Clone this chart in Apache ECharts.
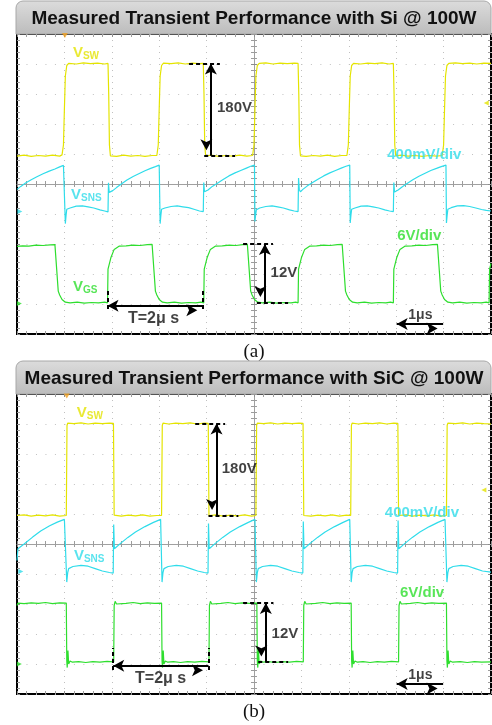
<!DOCTYPE html>
<html><head><meta charset="utf-8">
<script src="https://cdn.jsdelivr.net/npm/echarts@6/dist/echarts.min.js"></script>
<style>html,body{margin:0;padding:0;background:#fff}#c{width:492px;height:725px}</style>
</head><body><div id="c"></div>
<script>
// ---- data (x in µs = scope divisions, y in scope divisions 0..10) ----
const titles = ['Measured Transient Performance with Si @ 100W','Measured Transient Performance with SiC @ 100W'];
const captions = ['(a)','(b)'];
const channelNames = ['SW','SNS','GS'];
const scaleLabels = ['400mV/div','6V/div'];
const deltaLabels = ['180V','12V','T=2μ s','1μs'];

const vswA = [[0,5.93],[0.15,5.96],[0.3,5.92],[0.45,5.95],[0.6,5.93],[0.75,5.96],[0.9,5.93],[0.95,5.97],[0.98,6.3],[1.0,7.5],[1.02,8.6],[1.05,8.95],[1.09,9.02],[1.25,9.0],[1.4,9.04],[1.55,9.01],[1.7,9.03],[1.85,9.0],[1.92,9.02],[1.935,8.0],[1.95,6.3],[1.97,5.94],[2.1,5.92],[2.25,5.96],[2.4,5.93],[2.55,5.95],[2.7,5.92],[2.85,5.95],[2.95,5.95],[2.98,6.3],[3.0,7.5],[3.02,8.6],[3.05,8.95],[3.09,9.03],[3.25,9.01],[3.4,9.04],[3.55,9.0],[3.7,9.03],[3.85,9.01],[3.93,9.02],[3.945,8.0],[3.96,6.3],[3.98,5.94],[4.1,5.96],[4.25,5.92],[4.4,5.95],[4.55,5.93],[4.7,5.96],[4.85,5.93],[4.97,5.95],[5.0,6.3],[5.02,7.5],[5.04,8.6],[5.07,8.95],[5.11,9.02],[5.25,9.04],[5.4,9.0],[5.55,9.03],[5.7,9.01],[5.85,9.03],[5.93,9.02],[5.945,8.0],[5.96,6.3],[5.98,5.94],[6.1,5.92],[6.25,5.95],[6.4,5.93],[6.55,5.96],[6.7,5.92],[6.85,5.95],[6.96,5.95],[6.99,6.3],[7.01,7.5],[7.03,8.6],[7.06,8.95],[7.1,9.02],[7.25,9.0],[7.4,9.03],[7.55,9.01],[7.7,9.04],[7.85,9.0],[7.94,9.02],[7.955,8.0],[7.97,6.3],[7.99,5.94],[8.1,5.96],[8.25,5.93],[8.4,5.95],[8.55,5.92],[8.7,5.95],[8.85,5.93],[8.97,5.95],[9.0,6.3],[9.02,7.5],[9.04,8.6],[9.07,8.95],[9.11,9.02],[9.25,9.04],[9.4,9.01],[9.55,9.03],[9.7,9.0],[9.85,9.03],[10,9.02]];
const vsnsA = [[0,4.82],[0.08,4.92],[0.18,5.03],[0.3,5.14],[0.42,5.24],[0.55,5.34],[0.68,5.43],[0.8,5.5],[0.9,5.57],[0.98,5.62],[1.01,5.63],[1.02,3.68],[1.035,3.95],[1.05,4.16],[1.12,4.2],[1.25,4.26],[1.38,4.27],[1.5,4.24],[1.62,4.2],[1.75,4.14],[1.85,4.1],[1.92,4.07],[1.93,5.04],[1.945,4.72],[1.97,4.67],[2.02,4.78],[2.1,4.88],[2.2,5.0],[2.32,5.13],[2.45,5.25],[2.58,5.35],[2.7,5.44],[2.82,5.52],[2.92,5.58],[3.0,5.63],[3.02,3.68],[3.035,3.95],[3.05,4.16],[3.12,4.2],[3.25,4.25],[3.38,4.27],[3.5,4.24],[3.62,4.21],[3.75,4.15],[3.85,4.1],[3.93,4.08],[3.94,5.05],[3.955,4.74],[3.98,4.7],[4.03,4.8],[4.12,4.92],[4.22,5.02],[4.34,5.14],[4.47,5.27],[4.6,5.37],[4.72,5.45],[4.84,5.53],[4.93,5.59],[5.01,5.63],[5.02,3.75],[5.035,3.98],[5.05,4.14],[5.12,4.2],[5.25,4.25],[5.38,4.27],[5.5,4.24],[5.62,4.2],[5.75,4.14],[5.85,4.1],[5.93,4.08],[5.94,5.2],[5.955,4.82],[5.98,4.74],[6.03,4.82],[6.12,4.93],[6.22,5.03],[6.34,5.15],[6.47,5.27],[6.6,5.37],[6.72,5.45],[6.84,5.53],[6.94,5.59],[7.02,5.63],[7.03,3.7],[7.045,3.96],[7.06,4.16],[7.13,4.2],[7.26,4.26],[7.39,4.27],[7.51,4.24],[7.63,4.2],[7.76,4.14],[7.86,4.1],[7.94,4.08],[7.95,5.05],[7.965,4.73],[7.99,4.69],[8.04,4.8],[8.13,4.91],[8.23,5.02],[8.35,5.14],[8.48,5.26],[8.61,5.36],[8.73,5.45],[8.85,5.52],[8.95,5.58],[9.05,5.63],[9.06,3.7],[9.075,3.96],[9.09,4.16],[9.16,4.21],[9.29,4.27],[9.42,4.28],[9.55,4.25],[9.68,4.2],[9.8,4.15],[9.9,4.12],[10,4.1]];
const vgsA = [[0,2.92],[0.12,2.94],[0.25,2.93],[0.4,2.96],[0.55,2.95],[0.7,2.97],[0.8,2.98],[0.87,1.43],[0.9,1.3],[0.95,1.15],[1.02,1.06],[1.12,1.04],[1.27,1.06],[1.42,1.03],[1.57,1.05],[1.72,1.04],[1.85,1.06],[1.91,1.04],[1.92,2.16],[1.98,2.54],[2.05,2.82],[2.16,2.93],[2.3,2.94],[2.45,2.96],[2.6,2.95],[2.75,2.98],[2.85,2.99],[2.92,1.43],[2.95,1.3],[3.0,1.15],[3.07,1.06],[3.17,1.04],[3.32,1.06],[3.47,1.03],[3.62,1.05],[3.77,1.04],[3.88,1.06],[3.94,1.04],[3.95,2.16],[4.01,2.54],[4.08,2.82],[4.19,2.93],[4.33,2.94],[4.48,2.96],[4.62,2.95],[4.76,2.98],[4.86,2.99],[4.93,1.43],[4.96,1.3],[5.01,1.15],[5.08,1.06],[5.18,1.04],[5.33,1.06],[5.48,1.03],[5.63,1.05],[5.78,1.04],[5.88,1.06],[5.93,1.04],[5.94,2.16],[6.0,2.54],[6.07,2.82],[6.18,2.93],[6.32,2.94],[6.47,2.96],[6.61,2.95],[6.76,2.98],[6.86,2.99],[6.93,1.43],[6.96,1.3],[7.01,1.15],[7.08,1.06],[7.18,1.04],[7.33,1.06],[7.48,1.03],[7.63,1.05],[7.78,1.04],[7.88,1.06],[7.94,1.04],[7.95,2.16],[8.01,2.54],[8.08,2.82],[8.19,2.93],[8.33,2.94],[8.48,2.96],[8.62,2.95],[8.77,2.98],[8.87,2.99],[8.94,1.43],[8.97,1.3],[9.02,1.15],[9.09,1.06],[9.19,1.04],[9.34,1.06],[9.49,1.03],[9.64,1.05],[9.79,1.04],[9.9,1.06],[9.96,1.04],[9.97,2.16],[10,2.35]];

const vswB = [[0,5.95],[0.15,5.97],[0.3,5.93],[0.45,5.96],[0.6,5.94],[0.75,5.97],[0.9,5.93],[1.04,5.95],[1.055,8.95],[1.07,9.03],[1.2,9.01],[1.35,9.04],[1.5,9.0],[1.65,9.03],[1.8,9.01],[1.95,9.03],[2.035,9.02],[2.05,5.96],[2.2,5.93],[2.35,5.96],[2.5,5.94],[2.65,5.97],[2.8,5.93],[2.95,5.95],[3.05,5.95],[3.065,8.95],[3.08,9.03],[3.2,9.0],[3.35,9.03],[3.5,9.01],[3.65,9.04],[3.8,9.0],[3.95,9.03],[4.035,9.02],[4.05,5.95],[4.2,5.97],[4.35,5.93],[4.5,5.96],[4.65,5.94],[4.8,5.97],[4.95,5.93],[5.04,5.95],[5.055,8.95],[5.07,9.03],[5.2,9.01],[5.35,9.04],[5.5,9.0],[5.65,9.03],[5.8,9.01],[5.95,9.03],[6.035,9.02],[6.05,5.95],[6.2,5.93],[6.35,5.96],[6.5,5.94],[6.65,5.97],[6.8,5.93],[6.95,5.96],[7.04,5.95],[7.055,8.95],[7.07,9.03],[7.2,9.0],[7.35,9.03],[7.5,9.01],[7.65,9.04],[7.8,9.0],[7.95,9.03],[8.035,9.02],[8.05,5.95],[8.2,5.97],[8.35,5.93],[8.5,5.96],[8.65,5.94],[8.8,5.97],[8.95,5.93],[9.06,5.95],[9.075,8.95],[9.09,9.03],[9.25,9.01],[9.4,9.04],[9.55,9.0],[9.7,9.03],[9.85,9.01],[10,9.0]];
const vsnsB = [[0,4.45],[0.02,4.84],[0.06,4.88],[0.15,5.0],[0.33,5.23],[0.5,5.43],[0.68,5.6],[0.85,5.73],[1.0,5.82],[1.04,5.84],[1.05,3.73],[1.07,4.05],[1.09,4.18],[1.18,4.25],[1.35,4.29],[1.5,4.26],[1.65,4.18],[1.8,4.1],[1.95,4.05],[2.03,4.03],[2.04,5.65],[2.055,4.84],[2.09,4.9],[2.19,5.03],[2.34,5.22],[2.5,5.4],[2.7,5.58],[2.88,5.72],[3.03,5.82],[3.05,5.84],[3.06,3.73],[3.08,4.05],[3.1,4.18],[3.19,4.25],[3.36,4.29],[3.51,4.26],[3.66,4.18],[3.81,4.1],[3.95,4.05],[4.03,4.03],[4.04,5.68],[4.055,4.84],[4.09,4.9],[4.19,5.03],[4.34,5.22],[4.5,5.4],[4.7,5.58],[4.88,5.72],[5.02,5.82],[5.04,5.84],[5.05,3.73],[5.07,4.05],[5.09,4.18],[5.18,4.25],[5.35,4.29],[5.5,4.26],[5.65,4.18],[5.8,4.1],[5.95,4.05],[6.03,4.03],[6.04,5.75],[6.055,4.84],[6.09,4.9],[6.19,5.03],[6.34,5.22],[6.5,5.4],[6.7,5.58],[6.88,5.72],[7.02,5.82],[7.04,5.84],[7.05,3.73],[7.07,4.05],[7.09,4.18],[7.18,4.25],[7.35,4.29],[7.5,4.26],[7.65,4.18],[7.8,4.1],[7.95,4.05],[8.03,4.03],[8.04,5.78],[8.055,4.84],[8.09,4.9],[8.19,5.03],[8.34,5.22],[8.5,5.4],[8.7,5.58],[8.88,5.72],[9.03,5.82],[9.06,5.84],[9.07,3.73],[9.09,4.05],[9.11,4.18],[9.2,4.25],[9.37,4.29],[9.52,4.26],[9.67,4.18],[9.82,4.1],[10,4.06]];
const vgsB = [[0,2.95],[0.02,3.03],[0.15,3.01],[0.3,3.04],[0.45,3.02],[0.6,3.05],[0.75,3.01],[0.9,3.04],[1.04,3.03],[1.05,1.1],[1.06,0.88],[1.075,1.45],[1.09,1.0],[1.12,1.1],[1.17,1.06],[1.3,1.08],[1.45,1.05],[1.6,1.08],[1.75,1.06],[1.9,1.09],[2.04,1.07],[2.05,2.95],[2.07,3.09],[2.1,3.0],[2.14,3.04],[2.3,3.02],[2.45,3.05],[2.6,3.01],[2.75,3.04],[2.9,3.02],[3.05,3.03],[3.06,1.1],[3.07,0.88],[3.085,1.45],[3.1,1.0],[3.13,1.1],[3.18,1.06],[3.3,1.08],[3.45,1.05],[3.6,1.08],[3.75,1.06],[3.9,1.09],[4.05,1.07],[4.06,2.95],[4.08,3.09],[4.11,3.0],[4.15,3.04],[4.3,3.02],[4.45,3.05],[4.6,3.01],[4.75,3.04],[4.9,3.02],[5.06,3.03],[5.07,1.1],[5.08,0.88],[5.095,1.45],[5.11,1.0],[5.14,1.1],[5.19,1.06],[5.3,1.08],[5.45,1.05],[5.6,1.08],[5.75,1.06],[5.9,1.09],[6.04,1.07],[6.05,2.95],[6.07,3.09],[6.1,3.0],[6.14,3.04],[6.3,3.02],[6.45,3.05],[6.6,3.01],[6.75,3.04],[6.9,3.02],[7.05,3.03],[7.06,1.1],[7.07,0.88],[7.085,1.45],[7.1,1.0],[7.13,1.1],[7.18,1.06],[7.3,1.08],[7.45,1.05],[7.6,1.08],[7.75,1.06],[7.9,1.09],[8.05,1.07],[8.06,2.95],[8.08,3.09],[8.11,3.0],[8.15,3.04],[8.3,3.02],[8.45,3.05],[8.6,3.01],[8.75,3.04],[8.9,3.02],[9.06,3.03],[9.07,1.1],[9.08,0.88],[9.095,1.45],[9.11,1.0],[9.14,1.1],[9.19,1.06],[9.35,1.08],[9.5,1.05],[9.65,1.08],[9.8,1.06],[10,1.07]];

// ---- styling / layout ----
const COL = {sw:'#e4e400', sns:'#2fdcea', gs:'#2ede2e', trig:'#f0a020'};
const FONT = 'Liberation Sans, Arial, sans-serif';
const grids = [
  {left:17, top:34, width:474, height:300, show:true, borderColor:'#000', borderWidth:2, backgroundColor:'#fff'},
  {left:17, top:394, width:474, height:300, show:true, borderColor:'#000', borderWidth:2, backgroundColor:'#fff'}
];

// annotation placement (data coordinates)
const panels = [
  {traces:[vswA,vsnsA,vgsA],
   names:[[1.18,9.37],[1.14,4.63],[1.18,1.56]],
   v180:{top:[3.63,4.28,9.02], bot:[3.95,4.6,5.94], x:4.09, t:[4.22,7.53]},
   mv:[7.81,5.97], v6:[8.02,3.27],
   v12:{top:[4.77,5.4,3.0], bot:[5.06,5.72,1.05], x:5.23, t:[5.35,2.04]},
   T:{y:0.94, x0:1.91, x1:3.92, vy0:0.83, vy1:1.53, t:[2.88,0.5]},
   us:{y:0.33, x0:8.01, x1:8.99, t:[8.51,0.62]},
   mk:{trig:[1.01,9.95], lvl:[9.9,7.7], sns:[0.06,4.08], gs:[0.05,1.02]}},
  {traces:[vswB,vsnsB,vgsB],
   names:[[1.26,9.36],[1.2,4.62],null],
   v180:{top:[3.76,4.39,9.02], bot:[4.04,4.67,5.95], x:4.21, t:[4.32,7.52]},
   mv:[7.76,6.04], v6:[8.08,3.36],
   v12:{top:[4.77,5.41,3.03], bot:[5.09,5.72,1.07], x:5.25, t:[5.37,2.02]},
   T:{y:0.94, x0:2.03, x1:4.04, vy0:0.8, vy1:1.53, t:[3.03,0.5]},
   us:{y:0.33, x0:8.01, x1:8.99, t:[8.51,0.63]},
   mk:{trig:[1.05,9.93], lvl:[9.85,6.8], sns:[0.08,4.08], gs:[0.05,1.0]}}
];

const xAxis = [], yAxis = [], series = [];
function tickCfg(inside){return {
  axisTick:{show:true, inside:inside, length:3, lineStyle:{color:'#8c8c8c'}},
  minorTick:{show:true, splitNumber:5, length:3, lineStyle:{color:'#9c9c9c'}},
  axisLabel:{show:false}};}
grids.forEach((gr,g)=>{
  const b = 4*g;
  xAxis.push(Object.assign({gridIndex:g,type:'value',min:0,max:10,interval:1,position:'bottom',axisLine:{show:false,onZero:false},
    splitLine:{show:true,lineStyle:{color:'#c0c0c0',width:1,type:[1,5]}}}, tickCfg(true)));
  xAxis.push(Object.assign({gridIndex:g,type:'value',min:0,max:10,interval:1,position:'top',axisLine:{show:false,onZero:false},splitLine:{show:false}}, tickCfg(true)));
  xAxis.push(Object.assign({gridIndex:g,type:'value',min:-5,max:5,interval:1,position:'bottom',axisLine:{show:true,onZero:true,onZeroAxisIndex:b+2,lineStyle:{color:'#a0a0a0',width:1}},splitLine:{show:false}}, tickCfg(true)));
  xAxis.push(Object.assign({gridIndex:g,type:'value',min:-5,max:5,interval:1,position:'bottom',axisLine:{show:false,onZero:true,onZeroAxisIndex:b+2},splitLine:{show:false}}, tickCfg(false)));
  yAxis.push(Object.assign({gridIndex:g,type:'value',min:0,max:10,interval:1,position:'left',axisLine:{show:false,onZero:false},
    splitLine:{show:true,lineStyle:{color:'#c0c0c0',width:1,type:[1,8.48]}}}, tickCfg(true)));
  yAxis.push(Object.assign({gridIndex:g,type:'value',min:0,max:10,interval:1,position:'right',axisLine:{show:false,onZero:false},splitLine:{show:false}}, tickCfg(true)));
  yAxis.push(Object.assign({gridIndex:g,type:'value',min:-5,max:5,interval:1,position:'left',axisLine:{show:true,onZero:true,onZeroAxisIndex:b+2,lineStyle:{color:'#a0a0a0',width:1}},splitLine:{show:false}}, tickCfg(true)));
  yAxis.push(Object.assign({gridIndex:g,type:'value',min:-5,max:5,interval:1,position:'left',axisLine:{show:false,onZero:true,onZeroAxisIndex:b+2},splitLine:{show:false}}, tickCfg(false)));

  const p = panels[g];
  const cols = [COL.sw, COL.sns, COL.gs];
  p.traces.forEach((d,i)=>{
    series.push({type:'line', xAxisIndex:b, yAxisIndex:b, data:d, symbol:'none', showSymbol:false,
      lineStyle:{color:cols[i], width:1.2}, silent:true, z:3, animation:false});
  });

  // text labels
  const lab = [];
  const nameRich = (c)=>({v:{fontSize:15,fontWeight:'bold',color:c,fontFamily:FONT},
                          s:{fontSize:10,fontWeight:'bold',color:c,fontFamily:FONT,padding:[7,0,0,0]}});
  p.names.forEach((pos,i)=>{
    if(!pos) return;
    lab.push({value:pos, label:{show:true,position:'right',distance:0,formatter:'{v|V}{s|'+channelNames[i]+'}',rich:nameRich(cols[i])}});
  });
  const bold = (c,fs,posn)=>({show:true,position:posn,distance:0,color:c,fontSize:fs,fontWeight:'bold',fontFamily:FONT});
  lab.push({value:p.mv, label:Object.assign(bold(COL.sns,15,'right'),{formatter:scaleLabels[0]})});
  lab.push({value:p.v6, label:Object.assign(bold(COL.gs,15,'right'),{formatter:scaleLabels[1]})});
  lab.push({value:p.v180.t, label:Object.assign(bold('#111',15,'right'),{formatter:deltaLabels[0]})});
  lab.push({value:p.v12.t, label:Object.assign(bold('#111',15,'right'),{formatter:deltaLabels[1]})});
  lab.push({value:p.T.t, label:Object.assign(bold('#111',16,'inside'),{formatter:deltaLabels[2]})});
  lab.push({value:p.us.t, label:Object.assign(bold('#111',14,'inside'),{formatter:deltaLabels[3]})});
  series.push({type:'scatter', xAxisIndex:b, yAxisIndex:b, data:lab, symbolSize:0, silent:true, z:6, animation:false,
    markLine:{silent:true, animation:false, symbol:['none','none'], label:{show:false},
      lineStyle:{color:'#000', width:2, type:[4,3]},
      data:[
        [{coord:[p.v180.top[0],p.v180.top[2]]},{coord:[p.v180.top[1],p.v180.top[2]]}],
        [{coord:[p.v180.bot[0],p.v180.bot[2]]},{coord:[p.v180.bot[1],p.v180.bot[2]]}],
        [{coord:[p.v12.top[0],p.v12.top[2]]},{coord:[p.v12.top[1],p.v12.top[2]]}],
        [{coord:[p.v12.bot[0],p.v12.bot[2]]},{coord:[p.v12.bot[1],p.v12.bot[2]]}],
        [{coord:[p.T.x0,p.T.vy0]},{coord:[p.T.x0,p.T.vy1]}],
        [{coord:[p.T.x1,p.T.vy0]},{coord:[p.T.x1,p.T.vy1]}]
      ]}});
  series.push({type:'line', xAxisIndex:b, yAxisIndex:b, data:[], silent:true, z:6, animation:false,
    markLine:{silent:true, animation:false, symbol:['arrow','arrow'], symbolSize:[9,11], symbolOffset:[0,'50%'], label:{show:false},
      lineStyle:{color:'#000', width:2, type:'solid'},
      data:[
        [{coord:[p.v180.x,p.v180.top[2]]},{coord:[p.v180.x,p.v180.bot[2]]}],
        [{coord:[p.v12.x,p.v12.top[2]]},{coord:[p.v12.x,p.v12.bot[2]]}],
        [{coord:[p.T.x0,p.T.y]},{coord:[p.T.x1,p.T.y]}],
        [{coord:[p.us.x0,p.us.y]},{coord:[p.us.x1,p.us.y]}]
      ]}});
  // scope markers
  series.push({type:'scatter', xAxisIndex:b, yAxisIndex:b, silent:true, z:5, animation:false, symbol:'triangle',
    data:[
      {value:p.mk.trig, symbolSize:[6,5], symbolRotate:180, itemStyle:{color:COL.trig}},
      {value:p.mk.lvl, symbolSize:[5,5], symbolRotate:90, itemStyle:{color:COL.sw}},
      {value:p.mk.sns, symbolSize:[5,5], symbolRotate:-90, itemStyle:{color:COL.sns}},
      {value:p.mk.gs, symbolSize:[5,5], symbolRotate:-90, itemStyle:{color:COL.gs}}
    ]});
});

const barFill = ()=>new echarts.graphic.LinearGradient(0,0,0,1,[{offset:0,color:'#dcdcdc'},{offset:1,color:'#bcbcbc'}]);
const graphic = [];
[[1,34],[361,394]].forEach((r,i)=>{
  graphic.push({type:'rect', shape:{x:16,y:r[0],width:475,height:r[1]-r[0],r:[7,7,0,0]}, style:{fill:barFill(),stroke:'#a8a8a8',lineWidth:1}, z:1});
  graphic.push({type:'text', x:254, y:(r[0]+r[1])/2+1, style:{text:titles[i], font:'bold 19px '+FONT, fill:'#111', align:'center', verticalAlign:'middle'}, z:2});
});
graphic.push({type:'text', x:254, y:352, style:{text:captions[0], font:'19px Liberation Serif, Times New Roman, serif', fill:'#111', align:'center', verticalAlign:'middle'}});
graphic.push({type:'text', x:254, y:712, style:{text:captions[1], font:'19px Liberation Serif, Times New Roman, serif', fill:'#111', align:'center', verticalAlign:'middle'}});

const chart = echarts.init(document.getElementById('c'), null, {renderer:'canvas'});
chart.setOption({animation:false, backgroundColor:'#fff', grid:grids, xAxis, yAxis, series, graphic});
</script></body></html>
